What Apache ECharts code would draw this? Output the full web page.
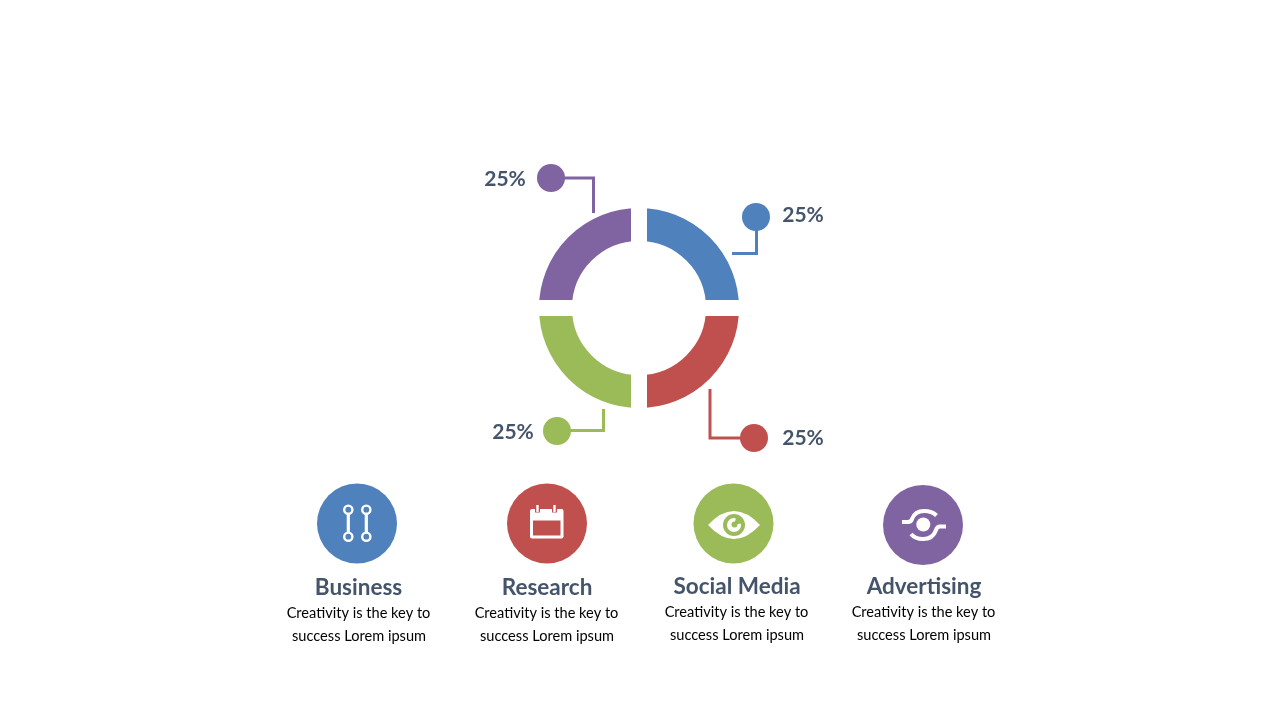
<!DOCTYPE html>
<html><head><meta charset="utf-8">
<style>html,body{margin:0;padding:0;background:#fff}#c{width:1280px;height:720px}</style>
<script src="https://cdn.jsdelivr.net/npm/echarts@6/dist/echarts.min.js"></script>
</head><body><div id="c"></div>
<script>
var segmentNames = ['Business','Research','Social Media','Advertising'];
var segmentValues = [25,25,25,25];
var segmentColors = ['#4F81BD','#C0504D','#9BBB59','#8064A2'];
var bodyLines = ['Creativity is the key to','success Lorem ipsum'];
var FONT = 'Lato, Carlito, Calibri, sans-serif';
var INK = '#44546A';

var total = segmentValues.reduce(function(a,b){return a+b;},0);
var pct = segmentValues.map(function(v){return Math.round(v/total*100)+'%';});

var callouts = [
  {dot:[756,217], pts:[[756.5,217],[756.5,253.5],[732,253.5]], label:[803,215.5]},
  {dot:[754,438], pts:[[754,438],[710,438],[710,389]], label:[803,438.5]},
  {dot:[557,431], pts:[[557,430.5],[603.5,430.5],[603.5,409]], label:[513,432]},
  {dot:[551,178], pts:[[551,178],[593.5,178],[593.5,213]], label:[505,179]}
];
var badges = [
  {c:[357,523.5], title:[358.5,588], l1:[358.5,613.5], l2:[359,636.5]},
  {c:[547,523.5], title:[547,588], l1:[546.5,613.5], l2:[547,636.5]},
  {c:[733.5,523.5], title:[737,587], l1:[736.5,612.5], l2:[737,635.5]},
  {c:[923,525], title:[924,587], l1:[923.5,612.5], l2:[924,635.5]}
];

echarts.graphic.registerShape('iconEye', echarts.graphic.extendPath('M708 525 Q734 497 760 525 Q734 553 708 525 Z'));
echarts.graphic.registerShape('iconArcTop', echarts.graphic.extendPath('M902 522 H908 Q911 522 912 519 Q915 511 924 511 Q932 511 936.5 515.5'));
echarts.graphic.registerShape('iconArcBottom', echarts.graphic.extendPath('M946 526.5 H940 Q937 526.5 936 530 Q933 539 923 539 Q915 539 911 534'));

var g = [];
callouts.forEach(function(k,i){
  var col = segmentColors[i];
  g.push({type:'polyline',z:5,shape:{points:k.pts},style:{fill:null,stroke:col,lineWidth:3,lineJoin:'miter'}});
  g.push({type:'circle',z:6,shape:{cx:k.dot[0],cy:k.dot[1],r:14},style:{fill:col}});
  g.push({type:'text',z:6,x:k.label[0],y:k.label[1],style:{text:pct[i],fill:INK,font:'bold 21px '+FONT,align:'center',verticalAlign:'middle'}});
});
badges.forEach(function(b,i){
  g.push({type:'circle',z:5,shape:{cx:b.c[0],cy:b.c[1],r:40},style:{fill:segmentColors[i]}});
  g.push({type:'text',z:6,x:b.title[0],y:b.title[1],style:{text:segmentNames[i],fill:INK,font:'bold 22.5px '+FONT,align:'center',verticalAlign:'middle'}});
  g.push({type:'text',z:6,x:b.l1[0],y:b.l1[1],style:{text:bodyLines[0],fill:'#000',font:'14.6px '+FONT,align:'center',verticalAlign:'middle'}});
  g.push({type:'text',z:6,x:b.l2[0],y:b.l2[1],style:{text:bodyLines[1],fill:'#000',font:'14.6px '+FONT,align:'center',verticalAlign:'middle'}});
});
function W(o){o.z=7;g.push(o);}
// Business icon
W({type:'line',shape:{x1:348.3,y1:513,x2:348.3,y2:533},style:{stroke:'#fff',lineWidth:3.2}});
W({type:'line',shape:{x1:366.3,y1:513,x2:366.3,y2:533},style:{stroke:'#fff',lineWidth:3.2}});
[[348.3,509.7],[366.3,509.7],[348.3,536.7],[366.3,536.7]].forEach(function(p){
  W({type:'circle',z2:2,shape:{cx:p[0],cy:p[1],r:4.1},style:{fill:'#4F81BD',stroke:'#fff',lineWidth:2.4}});
});
// Calendar icon
W({type:'rect',shape:{x:530,y:509,width:33.5,height:29.5,r:2},style:{fill:'#fff'}});
W({type:'rect',z2:1,shape:{x:533,y:520.5,width:27.5,height:15},style:{fill:'#C0504D'}});
[537.5,554.5].forEach(function(x){
  W({type:'rect',z2:1,shape:{x:x-2.5,y:505,width:5,height:7.5},style:{fill:'#C0504D'}});
  W({type:'rect',z2:2,shape:{x:x-1.2,y:505,width:2.4,height:7},style:{fill:'#fff'}});
});
// Eye icon
W({type:'iconEye',style:{fill:'#fff'}});
W({type:'circle',z2:1,shape:{cx:734,cy:525,r:11},style:{fill:'#9BBB59'}});
W({type:'circle',z2:2,shape:{cx:734,cy:525,r:7},style:{fill:'#fff'}});
W({type:'circle',z2:3,shape:{cx:734.5,cy:524.5,r:3},style:{fill:'#9BBB59'}});
W({type:'sector',z2:3,shape:{cx:734.3,cy:524.7,r:7.5,r0:0,startAngle:-1.35,endAngle:-0.2},style:{fill:'#9BBB59'}});
// Advertising icon
W({type:'circle',shape:{cx:923.3,cy:524.5,r:7},style:{fill:'#fff'}});
W({type:'iconArcTop',style:{fill:null,stroke:'#fff',lineWidth:4}});
W({type:'iconArcBottom',style:{fill:null,stroke:'#fff',lineWidth:4}});

var chart = echarts.init(document.getElementById('c'),null,{renderer:'canvas'});
chart.setOption({
  animation:false,
  backgroundColor:'#fff',
  series:[{
    type:'pie',silent:true,center:[639,308],radius:[59,108],startAngle:90,clockwise:true,
    label:{show:false},labelLine:{show:false},
    itemStyle:{borderColor:'#fff',borderWidth:16,borderJoin:'miter'},
    data:segmentNames.map(function(n,i){return {name:n,value:segmentValues[i],itemStyle:{color:segmentColors[i]}};})
  }],
  graphic:{elements:g}
});
</script></body></html>
